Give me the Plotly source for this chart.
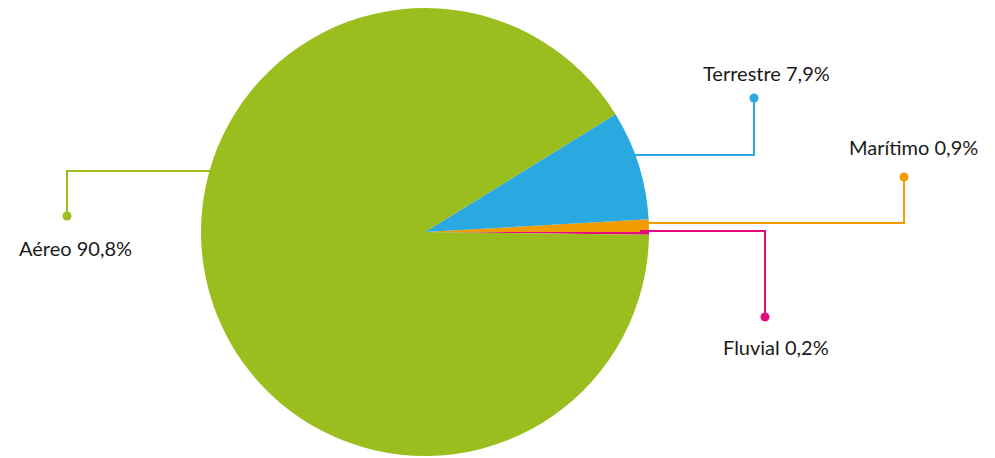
import plotly.graph_objects as go

# Data
labels = ["Fluvial", "Marítimo", "Terrestre", "Aéreo"]
values = [0.2, 0.9, 7.9, 90.8]
pct_text = ["0,2%", "0,9%", "7,9%", "90,8%"]
colors = ["#E5097F", "#F39C00", "#2AA8E0", "#9BBE1F"]

W, H = 995, 458
CX, CY, R = 425, 232, 224


def px(x, y):
    return x / W, 1 - y / H


fig = go.Figure()
fig.add_trace(go.Pie(
    labels=labels, values=values, sort=False, direction="counterclockwise",
    rotation=90, textinfo="none", hoverinfo="label+percent",
    marker=dict(colors=colors, line=dict(width=0)),
    domain=dict(x=[(CX - R) / W, (CX + R) / W],
                y=[(H - CY - R) / H, (H - CY + R) / H]),
    showlegend=False,
))

# Leader lines layout (pixel geometry): path ending at dot, label centre
leaders = {
    "Terrestre": dict(path=[(632, 155), (754, 155), (754, 98)], label=(766, 73)),
    "Marítimo": dict(path=[(646, 223), (904, 223), (904, 177)], label=(913, 147)),
    "Fluvial": dict(path=[(640, 231), (765, 231), (765, 317)], label=(776, 347)),
    "Aéreo": dict(path=[(212, 171), (67, 171), (67, 216)], label=(75, 248)),
}

shapes, annotations = [], []
for lab, pct, col in zip(labels, pct_text, colors):
    g = leaders[lab]
    pts = [px(*p) for p in g["path"]]
    d = "M " + " L ".join(f"{x},{y}" for x, y in pts)
    shapes.append(dict(type="path", path=d, xref="paper", yref="paper",
                       line=dict(color=col, width=2)))
    dx, dy = g["path"][-1]
    x0, y0 = px(dx - 4.5, dy + 4.5)
    x1, y1 = px(dx + 4.5, dy - 4.5)
    shapes.append(dict(type="circle", xref="paper", yref="paper",
                       x0=x0, y0=y0, x1=x1, y1=y1,
                       fillcolor=col, line=dict(color=col, width=0)))
    lx, ly = px(*g["label"])
    annotations.append(dict(text=f"{lab} {pct}", x=lx, y=ly, xref="paper", yref="paper",
                            showarrow=False, xanchor="center", yanchor="middle",
                            font=dict(size=20, color="#1a1a1a", family="Lato")))

fig.update_layout(width=W, height=H, margin=dict(l=0, r=0, t=0, b=0),
                  paper_bgcolor="white", plot_bgcolor="white",
                  shapes=shapes, annotations=annotations)
fig.write_html("out.html", config={"displayModeBar": False},
               post_script="document.body.style.margin='0';")
